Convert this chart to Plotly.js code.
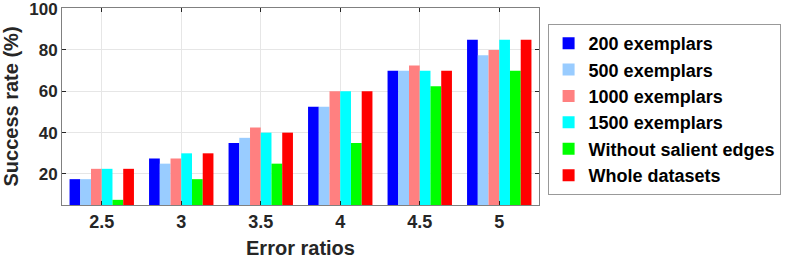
<!DOCTYPE html>
<html>
<head>
<meta charset="utf-8">
<script src="https://cdn.plot.ly/plotly-3.0.1.min.js"></script>
<style>html,body{margin:0;padding:0;background:#fff;}#chart{width:789px;height:259px;}</style>
</head>
<body>
<div id="chart"></div>
<script>
const categories = ["2.5", "3", "3.5", "4", "4.5", "5"];
const seriesNames = ["200 exemplars", "500 exemplars", "1000 exemplars", "1500 exemplars", "Without salient edges", "Whole datasets"];
const ex200   = [17.5, 27.5, 35.0, 52.5, 70.0, 85.0];
const ex500   = [17.5, 25.0, 37.5, 52.5, 70.0, 77.5];
const ex1000  = [22.5, 27.5, 42.5, 60.0, 72.5, 80.0];
const ex1500  = [22.5, 30.0, 40.0, 60.0, 70.0, 85.0];
const noEdges = [7.5, 17.5, 25.0, 35.0, 62.5, 70.0];
const whole   = [22.5, 30.0, 40.0, 60.0, 70.0, 85.0];
const yTicks = [20, 40, 60, 80, 100];
const colors = ["#0000ff", "#99ccff", "#ff8080", "#00ffff", "#00ff00", "#ff0000"];

const allSeries = [ex200, ex500, ex1000, ex1500, noEdges, whole];
const traces = allSeries.map((vals, i) => ({
  type: "bar",
  x: categories,
  y: vals,
  name: seriesNames[i],
  marker: {color: colors[i], line: {width: 0}},
  hoverinfo: "skip"
}));

const fam = "Liberation Sans, Arial, sans-serif";
const layout = {
  width: 789, height: 259,
  margin: {l: 62, r: 245, t: 8, b: 54},
  paper_bgcolor: "#fff", plot_bgcolor: "#fff",
  barmode: "group", bargap: 0.19, bargroupgap: 0,
  font: {family: fam, color: "#262626"},
  showlegend: true,
  legend: {
    x: 1.018, xanchor: "left", y: 0.919, yanchor: "top",
    bordercolor: "#999", borderwidth: 1, bgcolor: "#fff",
    font: {family: fam, size: 18, color: "#000", weight: "bold"},
    itemwidth: 30, tracegroupgap: 0
  },
  xaxis: {
    type: "category",
    title: {text: "Error ratios", font: {size: 20, weight: "bold", family: fam, color: "#262626"}, standoff: 16},
    tickfont: {size: 18, weight: "bold", family: fam, color: "#262626"},
    showgrid: true, gridcolor: "#e6e6e6", gridwidth: 1,
    showline: true, linecolor: "#808080", linewidth: 1, mirror: "ticks",
    ticks: "inside", ticklen: 4, tickcolor: "#262626",
    zeroline: false
  },
  yaxis: {
    range: [5, 100.3],
    tickvals: yTicks,
    ticktext: yTicks.map(String),
    ticklabeloverflow: "allow",
    title: {text: "Success rate (%)", font: {size: 20, weight: "bold", family: fam, color: "#262626"}, standoff: 11},
    tickfont: {size: 17, weight: "bold", family: fam, color: "#262626"},
    showgrid: true, gridcolor: "#e6e6e6", gridwidth: 1,
    showline: true, linecolor: "#808080", linewidth: 1, mirror: "ticks",
    ticks: "inside", ticklen: 4, tickcolor: "#262626",
    zeroline: false
  }
};

Plotly.newPlot("chart", traces, layout, {displayModeBar: false, staticPlot: true});
</script>
</body>
</html>
